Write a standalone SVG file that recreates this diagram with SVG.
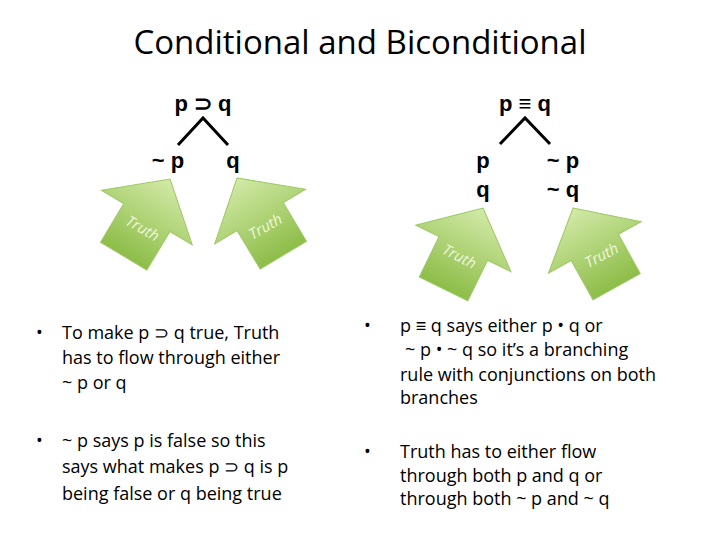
<svg xmlns="http://www.w3.org/2000/svg" width="720" height="540" viewBox="0 0 720 540">
<defs>
<linearGradient id="g" x1="0" y1="0" x2="0" y2="1"><stop offset="0" stop-color="#d3eaa8"/><stop offset="1" stop-color="#8dbd48"/></linearGradient>
<path id="arr" d="M0,0 L53,45 L27,45 L27,90 L-27,90 L-27,45 L-53,45 Z"/>
</defs>
<style>
.t{font-family:"Open Sans","Liberation Sans",sans-serif;fill:#000}
.b{font-family:"Liberation Sans",sans-serif;font-weight:bold;font-size:22px;text-anchor:middle}
.s{font-size:18px}
.a{fill:url(#g);stroke:#9cc865;stroke-width:1}
.tr{font-family:"Open Sans","Liberation Sans",sans-serif;font-style:italic;font-size:15px;fill:#eef7dd;text-anchor:middle}
</style>
<rect width="720" height="540" fill="#fff"/>
<text class="t" x="360" y="54" font-size="33" text-anchor="middle">Conditional and Biconditional</text>
<g id="connectors" stroke="#000" stroke-width="3" fill="none">
<path d="M178,145 L203,118 L228,145"/>
<path d="M500,144 L525,118 L550,144"/>
</g>
<g id="n-pq"><text class="b" x="203" y="111">p ⊃ q</text></g>
<g id="n-np"><text class="b" x="168" y="168">~ p</text></g>
<g id="n-q"><text class="b" x="233" y="168">q</text></g>
<g id="n-peq"><text class="b" x="525" y="111">p ≡ q</text></g>
<g id="n-pq2"><text class="b" x="483" y="168">p</text><text class="b" x="483" y="197">q</text></g>
<g id="n-npnq"><text class="b" x="563" y="168">~ p</text><text class="b" x="563" y="197">~ q</text></g>
<g id="arrow1"><use href="#arr" class="a" transform="translate(170,179) rotate(31)"/><text class="tr" transform="translate(140,233) rotate(30)">Truth</text></g>
<g id="arrow2"><use href="#arr" class="a" transform="translate(237,178) rotate(-31)"/><text class="tr" transform="translate(268,231) rotate(-30)">Truth</text></g>
<g id="arrow3"><use href="#arr" class="a" transform="translate(483,208) rotate(26)"/><text class="tr" transform="translate(457,261) rotate(27)">Truth</text></g>
<g id="arrow4"><use href="#arr" class="a" transform="translate(573,208) rotate(-29)"/><text class="tr" transform="translate(604,260) rotate(-28)">Truth</text></g>
<g class="t s">
<text x="36" y="339">•</text>
<text x="62" y="339">To make p ⊃ q true, Truth</text>
<text x="62" y="364">has to flow through either</text>
<text x="62" y="389">~ p or q</text>
<text x="36" y="447">•</text>
<text x="62" y="447">~ p says p is false so this</text>
<text x="62" y="473">says what makes p ⊃ q is p</text>
<text x="62" y="500">being false or q being true</text>
<text x="364" y="332">•</text>
<text x="400" y="332">p ≡ q says either p • q or</text>
<text x="405" y="356">~ p • ~ q so it’s a branching</text>
<text x="400" y="381">rule with conjunctions on both</text>
<text x="400" y="404">branches</text>
<text x="364" y="458">•</text>
<text x="400" y="458">Truth has to either flow</text>
<text x="400" y="482">through both p and q or</text>
<text x="400" y="505">through both ~ p and ~ q</text>
</g>
</svg>
